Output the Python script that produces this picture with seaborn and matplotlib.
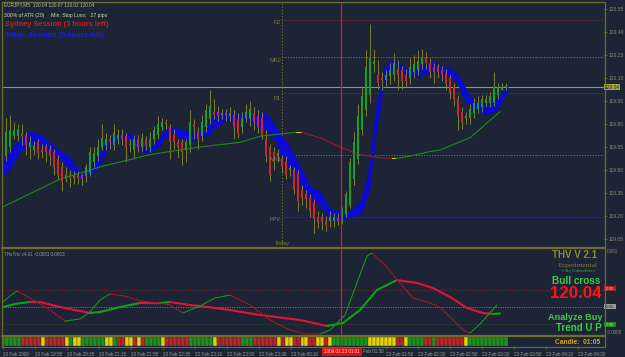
import matplotlib
matplotlib.use("Agg")
import matplotlib.pyplot as plt
import seaborn as sns
import numpy as np

W, H = 625, 357

# ---------------- data ----------------
bar_open = [119.50, 119.59, 119.65, 119.72, 119.72, 119.74, 119.73, 119.65, 119.63, 119.68,
            119.63, 119.65, 119.64, 119.62, 119.57, 119.52, 119.45, 119.47, 119.45, 119.47,
            119.47, 119.46, 119.48, 119.55, 119.59, 119.65, 119.66, 119.70, 119.66, 119.70,
            119.73, 119.72, 119.66, 119.63, 119.70, 119.65, 119.70, 119.65, 119.70, 119.73,
            119.78, 119.81, 119.78, 119.73, 119.68, 119.68, 119.63, 119.66, 119.80, 119.75,
            119.72, 119.78, 119.83, 119.88, 119.88, 119.86, 119.87, 119.85, 119.86, 119.83,
            119.78, 119.84, 119.83, 119.87, 119.85, 119.84, 119.70, 119.65, 119.62, 119.59,
            119.58, 119.56, 119.50, 119.50, 119.48, 119.37, 119.34, 119.32, 119.29, 119.19,
            119.19, 119.17, 119.17, 119.17, 119.19, 119.17, 119.21, 119.27, 119.44, 119.57,
            119.76, 119.89, 119.99, 120.19, 120.12, 120.10, 120.09, 120.11, 120.12, 120.16,
            120.15, 120.12, 120.10, 120.14, 120.15, 120.19, 120.23, 120.20, 120.17, 120.17,
            120.15, 120.13, 120.10, 120.04, 119.96, 119.88, 119.84, 119.84, 119.87, 119.90,
            119.91, 119.94, 119.94, 119.94, 119.99, 120.02, 120.04]
bar_high = [119.78, 119.84, 119.86, 119.81, 119.80, 119.80, 119.75, 119.72, 119.69, 119.70,
            119.67, 119.67, 119.66, 119.64, 119.60, 119.55, 119.52, 119.50, 119.49, 119.49,
            119.48, 119.54, 119.65, 119.65, 119.70, 119.80, 119.74, 119.73, 119.80, 119.77,
            119.77, 119.74, 119.70, 119.73, 119.73, 119.74, 119.72, 119.75, 119.79, 119.85,
            119.84, 119.83, 119.80, 119.77, 119.70, 119.70, 119.70, 119.89, 119.83, 119.78,
            119.86, 119.93, 120.02, 119.96, 119.92, 119.90, 119.90, 119.91, 119.89, 119.87,
            119.88, 119.93, 119.95, 119.91, 119.89, 119.88, 119.76, 119.67, 119.65, 119.64,
            119.60, 119.59, 119.53, 119.52, 119.50, 119.40, 119.37, 119.34, 119.31, 119.23,
            119.22, 119.20, 119.23, 119.22, 119.22, 119.26, 119.36, 119.58, 119.75, 119.93,
            120.05, 120.28, 120.45, 120.29, 120.22, 120.14, 120.15, 120.20, 120.26, 120.22,
            120.18, 120.16, 120.23, 120.25, 120.28, 120.29, 120.27, 120.23, 120.20, 120.19,
            120.18, 120.16, 120.12, 120.07, 119.99, 119.91, 119.88, 119.93, 119.97, 119.98,
            119.99, 119.99, 120.01, 120.14, 120.07, 120.07, 120.07]
bar_low = [119.48, 119.56, 119.62, 119.70, 119.69, 119.66, 119.60, 119.57, 119.60, 119.57,
           119.58, 119.55, 119.53, 119.47, 119.44, 119.36, 119.42, 119.39, 119.41, 119.41,
           119.40, 119.42, 119.46, 119.52, 119.56, 119.63, 119.63, 119.64, 119.63, 119.67,
           119.66, 119.55, 119.62, 119.57, 119.62, 119.62, 119.63, 119.62, 119.67, 119.70,
           119.76, 119.77, 119.57, 119.64, 119.58, 119.53, 119.55, 119.62, 119.70, 119.64,
           119.69, 119.75, 119.80, 119.83, 119.82, 119.83, 119.82, 119.82, 119.70, 119.71,
           119.74, 119.81, 119.79, 119.76, 119.74, 119.70, 119.55, 119.43, 119.50, 119.55,
           119.48, 119.44, 119.46, 119.34, 119.23, 119.27, 119.25, 119.19, 119.09, 119.12,
           119.11, 119.10, 119.13, 119.13, 119.14, 119.15, 119.19, 119.25, 119.40, 119.54,
           119.73, 119.85, 119.94, 120.14, 120.03, 120.02, 120.05, 120.06, 120.08, 120.02,
           120.03, 120.04, 120.06, 120.10, 120.12, 120.16, 120.16, 120.10, 120.07, 120.10,
           120.08, 120.02, 119.96, 119.92, 119.76, 119.77, 119.80, 119.80, 119.84, 119.87,
           119.88, 119.91, 119.91, 119.92, 119.96, 120.02, 120.02]
bar_close = [119.68, 119.75, 119.76, 119.76, 119.77, 119.72, 119.66, 119.68, 119.66, 119.61,
             119.62, 119.62, 119.59, 119.52, 119.47, 119.42, 119.47, 119.45, 119.46, 119.45,
             119.44, 119.52, 119.62, 119.61, 119.65, 119.71, 119.70, 119.68, 119.74, 119.73,
             119.70, 119.65, 119.67, 119.70, 119.65, 119.71, 119.66, 119.70, 119.76, 119.80,
             119.81, 119.80, 119.68, 119.68, 119.65, 119.62, 119.68, 119.81, 119.78, 119.70,
             119.81, 119.89, 119.92, 119.86, 119.85, 119.87, 119.86, 119.87, 119.78, 119.74,
             119.84, 119.88, 119.90, 119.81, 119.78, 119.73, 119.59, 119.47, 119.55, 119.61,
             119.52, 119.47, 119.51, 119.37, 119.30, 119.32, 119.31, 119.23, 119.18, 119.16,
             119.16, 119.14, 119.19, 119.19, 119.17, 119.24, 119.34, 119.55, 119.68, 119.85,
             119.98, 120.17, 120.23, 120.21, 120.07, 120.09, 120.12, 120.15, 120.20, 120.12,
             120.08, 120.08, 120.17, 120.19, 120.21, 120.24, 120.20, 120.14, 120.14, 120.14,
             120.12, 120.06, 120.00, 119.96, 119.85, 119.81, 119.85, 119.90, 119.94, 119.94,
             119.96, 119.96, 119.98, 120.04, 120.04, 120.04, 120.04]

# blue MA ribbon (bar index, upper edge, lower edge)
band_x = [0.25, 2, 4.5, 7, 9.5, 10.75, 12, 14.5, 17, 18.25, 19.5, 20.75, 22, 23.25, 24.5,
          25.75, 27, 29.5, 32, 33.25, 34.5, 37, 39.5, 40.75, 42, 43.25, 44.5, 47, 49.5,
          50.75, 52, 53.25, 54.5, 55.75, 57, 59.5, 62, 64.5, 65.75, 67, 68.25, 69.5, 72,
          74.5, 77, 79.5, 82, 84.5, 87, 89.5, 90.75, 92, 92.75, 93.5, 94.5, 95.25, 97,
          98.75, 100.25, 102, 103.75, 106.25, 108.25, 109.5, 112, 113.75, 115.25, 117,
          118.75, 121.25, 123.75, 125.25, 126.5]
band_top = [119.57, 119.63, 119.71, 119.75, 119.74, 119.71, 119.68, 119.63, 119.59, 119.53,
            119.49, 119.50, 119.53, 119.57, 119.62, 119.68, 119.71, 119.73, 119.74, 119.73,
            119.66, 119.65, 119.72, 119.76, 119.78, 119.78, 119.77, 119.75, 119.75, 119.78,
            119.83, 119.88, 119.89, 119.89, 119.87, 119.87, 119.86, 119.87, 119.88, 119.84,
            119.79, 119.74, 119.65, 119.53, 119.40, 119.36, 119.25, 119.23, 119.23, 119.30,
            119.40, 119.57, 119.76, 119.92, 120.05, 120.17, 120.21, 120.22, 120.18, 120.15,
            120.17, 120.20, 120.21, 120.18, 120.17, 120.13, 120.07, 119.98, 119.94, 119.94,
            119.97, 120.02, 120.05]
band_bot = [119.46, 119.50, 119.62, 119.66, 119.66, 119.63, 119.62, 119.57, 119.50, 119.47,
            119.44, 119.45, 119.47, 119.49, 119.53, 119.60, 119.66, 119.70, 119.70, 119.66,
            119.62, 119.61, 119.66, 119.71, 119.74, 119.73, 119.71, 119.68, 119.71, 119.72,
            119.73, 119.78, 119.79, 119.83, 119.81, 119.83, 119.81, 119.77, 119.76, 119.74,
            119.70, 119.60, 119.50, 119.41, 119.30, 119.27, 119.17, 119.17, 119.19, 119.21,
            119.27, 119.39, 119.57, 119.73, 119.89, 120.05, 120.14, 120.17, 120.13, 120.11,
            120.11, 120.13, 120.15, 120.12, 120.11, 120.07, 119.97, 119.91, 119.88, 119.86,
            119.89, 119.96, 120.01]

# slow moving average (thin line)
ma_x = [0.25, 14.5, 24.5, 37, 49.5, 59.5, 64.5, 69.5, 73.5, 75, 79.5, 84.5, 89.5, 94.5,
        97.5, 98.5, 102, 107, 109.5, 117, 124.5]
ma_y = [119.26, 119.44, 119.52, 119.60, 119.65, 119.68, 119.72, 119.735, 119.745, 119.745,
        119.71, 119.65, 119.60, 119.58, 119.575, 119.575, 119.59, 119.62, 119.63, 119.71,
        119.88]

# THV Trix oscillator lines
fast_x = [0.25, 2, 3.75, 7, 12, 15.75, 19.5, 22, 24.5, 27, 30.75, 34.5, 39.5, 42, 45.25,
          48.25, 49.5, 53.25, 57, 62, 67, 72, 75.75, 79.5, 82, 85.75, 89, 91.25, 92.5,
          96.25, 99.5, 102.75, 106.25, 109.5, 112.75, 115.25, 117, 119.5, 123.75]
fast_y = [0.000089, 0.000196, 0.000286, 0.000161, -0.000054, -0.000250, -0.000214,
          -0.000089, 0.000125, 0.000232, 0.000196, 0.000107, 0.000071, 0.000036,
          -0.000107, -0.000018, 0.000018, 0.000161, 0.000214, 0.000036, -0.000232,
          -0.000411, -0.000482, -0.000483, -0.000411, -0.000143, 0.000482, 0.000911,
          0.000964, 0.000714, 0.000429, 0.000161, 0.000089, 0.000000, -0.000232,
          -0.000411, -0.000464, -0.000304, 0.000036]
slow_x = [0.25, 3.25, 7, 9.5, 14.5, 19.5, 22, 24.5, 29.5, 34.5, 39.5, 42, 47, 49.5, 57,
          64.5, 74.5, 81.25, 85.25, 89.5, 93.75, 98.75, 103.75, 107.75, 112, 116.25,
          120.25, 122.75, 124.5]
slow_y = [0.000000, 0.000054, 0.000089, 0.000088, 0.000000, -0.000071, -0.000107,
          -0.000089, 0.000000, 0.000071, 0.000070, 0.000089, 0.000036, 0.000018,
          -0.000054, -0.000143, -0.000232, -0.000339, -0.000286, -0.000054, 0.000304,
          0.000482, 0.000429, 0.000339, 0.000179, -0.000018, -0.000107, -0.000125,
          -0.000116]

# signal strip per bar: G = buy, R = sell, Y = neutral
signal_codes = ("GGGGG" "RRRRR" "Y" "RRRRR" "Y" "G" "YY" "GGGGGG" "YY" "G" "RR" "YY" "R"
                "Y" "R" "GGGG" "Y" "RRRRRR" "GGGGGG" "Y" "RRRRRR" "GGG" "RRRRRR" "Y" "R"
                "YY" "RR" "YY" "RR" "YY" "R" "Y" "G" "GGGGGGGG" "YYYYYYY" "RR" "Y" "GGGG"
                "RR" "G" "RRRRRRR" "Y" "GGGGGGGGGG")

pivot_names = ["R2", "MR2", "R1", "MR1", "FPV"]
pivot_levels = [120.48, 120.24, 120.00, 119.60, 119.19]
pivot_start = 70
crosshair_bar = 84.75
current_price = 120.04
price_ticks = [120.55, 120.40, 120.25, 120.10, 119.95, 119.80, 119.65, 119.50, 119.35,
               119.20, 119.05]
date_ticks = [0, 8, 16, 24, 32, 40, 48, 56, 64, 72, 96, 104, 112, 120, 128, 136, 144]
date_labels = ["20 Feb 2009", "20 Feb 19:55", "20 Feb 20:35", "20 Feb 21:15", "20 Feb 21:55",
               "20 Feb 22:35", "22 Feb 23:10", "22 Feb 23:50", "22 Feb 23:30", "23 Feb 00:10",
               "23 Feb 01:50", "23 Feb 02:30", "23 Feb 02:50", "23 Feb 03:30", "23 Feb 03:50",
               "23 Feb 04:10", "23 Feb 04:30"]
partial_label = "Feb 01:30"
crosshair_label = "2009.02.23 01:01"

# ---------------- styling ----------------
sns.set_theme(style="dark")
plt.rcParams['font.family'] = ['Liberation Sans', 'DejaVu Sans']

BG = '#1c2436'
OLIVE = '#6e6e26'
GREEN = '#1e9e1e'
RED = '#c82828'
WICK = '#7c7c2c'
XL = (0.25, 150.5)

fig = plt.figure(figsize=(W / 100, H / 100), dpi=100, facecolor=BG)


def fax(x0, y0, x1, y1):
    return fig.add_axes([x0 / W, 1 - y1 / H, (x1 - x0) / W, (y1 - y0) / H])


ax1 = fax(3, 3, 604, 247)
ax2 = fax(3, 249, 604, 335)
ax3 = fax(3, 337, 604, 346)
for ax in (ax1, ax2, ax3):
    ax.set_facecolor(BG)
    for s in ax.spines.values():
        s.set_visible(False)
    ax.grid(False)
    ax.set_xlim(*XL)
    ax.set_xlabel('')
    ax.set_ylabel('')


def colored_runs(ax, xs, ys, lw, cu, cd, cf=None, tol=1e-9, z=3):
    cols = []
    for k in range(len(xs) - 1):
        d = ys[k + 1] - ys[k]
        cols.append(cu if d > tol else (cd if d < -tol else (cf or cu)))
    start = 0
    for k in range(1, len(cols) + 1):
        if k == len(cols) or cols[k] != cols[start]:
            sns.lineplot(x=xs[start:k + 1], y=ys[start:k + 1], ax=ax, color=cols[start],
                         lw=lw, sort=False, estimator=None, legend=False, zorder=z)
            start = k


# ---------------- main price panel ----------------
idx = np.arange(len(bar_close))
o = np.array(bar_open)
c = np.array(bar_close)
up = c >= o
ax1.fill_between(band_x, band_bot, band_top, color='#0a0ad2', lw=0, zorder=2)
ax1.vlines(idx, bar_low, bar_high, color=WICK, lw=0.72, zorder=3)
ax1.bar(idx, np.maximum(np.abs(c - o), 0.005), bottom=np.minimum(o, c), width=0.72,
        color=np.where(up, GREEN, RED), linewidth=0, edgecolor='none', zorder=4)
colored_runs(ax1, ma_x, ma_y, 0.8, '#1e8a1e', '#9a1e1e', '#c8c832', tol=1e-6, z=3)

ax1.axhline(current_price, color='#8e8e8e', lw=0.8, zorder=1)
for name, lev in zip(pivot_names, pivot_levels):
    if name == 'FPV':
        ax1.hlines(lev, pivot_start, XL[1], color='#1a1ad8', lw=0.9, zorder=1)
    else:
        col = '#9a2a2a' if name.startswith('R') else '#7a7a26'
        ax1.hlines(lev, pivot_start, XL[1], color=col, lw=0.7, ls=(0, (1.2, 1.6)), zorder=1)
ax1.axvline(pivot_start, color='#6e6e30', lw=0.8, ls=(0, (1.2, 1.6)), zorder=1)
ax1.set_ylim(118.9975, 120.5891)
ax1.set_yticks(price_ticks)
ax1.set_yticklabels([f"{t:.2f}" for t in price_ticks])
ax1.set_xticks([])
ax1.tick_params(axis='y', left=False, labelleft=False, right=True, labelright=True,
                length=2, width=0.6, color=OLIVE, labelsize=3.6, labelcolor='#8d8d70', pad=1.3)

# ---------------- oscillator panel ----------------
ax2.set_ylim(-0.0005, 0.001036)
ax2.axhline(0.0003, color='#8a2424', lw=0.6, ls=(0, (1.2, 1.6)))
ax2.axhline(0.0, color='#8a8a8a', lw=0.6, ls=(0, (1.2, 1.6)))
ax2.axhline(-0.0003, color='#2a5a2a', lw=0.6, ls=(0, (1.2, 1.6)))
colored_runs(ax2, slow_x, slow_y, 1.5, '#14a014', '#e0143c')
colored_runs(ax2, fast_x, fast_y, 0.75, '#1a9a1a', '#b01424')
ax2.set_xticks([])
ax2.set_yticks([])

# ---------------- signal strip ----------------
cmap = {'G': '#1f8f1f', 'R': '#b42828', 'Y': '#e6d200'}
ax3.set_ylim(0, 1)
ax3.bar(idx, 1, bottom=0, width=1.0, color=[cmap[s] for s in signal_codes],
        edgecolor='#1c2436', linewidth=0.25)
ax3.set_yticks([])
ax3.set_xticks(date_ticks)
ax3.set_xticklabels(date_labels, ha='left')
ax3.tick_params(axis='x', length=2, width=0.6, color=OLIVE, labelsize=3.3,
                labelcolor='#a2a288', pad=2.0, bottom=True)

for ax in (ax1, ax2, ax3):
    ax.axvline(crosshair_bar, color='#e01a1a', lw=0.9, zorder=6)

# ---------------- overlay: frame and texts ----------------
ov = fig.add_axes([0, 0, 1, 1], zorder=10)
ov.set_xlim(0, W)
ov.set_ylim(H, 0)
ov.axis('off')
ov.patch.set_alpha(0)

ov.plot([2, 604], [1.5, 1.5], color=OLIVE, lw=1.0)
ov.plot([2, 2], [1.5, 347], color=OLIVE, lw=0.9)
ov.plot([604.5, 604.5], [1.5, 347], color=OLIVE, lw=0.9)
ov.plot([2, 604], [248, 248], color=OLIVE, lw=1.6)
ov.plot([2, 604], [336, 336], color=OLIVE, lw=1.6)
ov.plot([2, 604], [346.8, 346.8], color=OLIVE, lw=0.8)

ov.text(4, 5, "EURJPY,M5  120.04 120.07 120.02 120.04", fontsize=3.4, color='#b8b8a8',
        va='center', ha='left')
ov.text(4, 15, "300% of ATR (20)     Min. Stop Loss:   27 pips", fontsize=3.7,
        color='#d8d8a0', va='center', ha='left')
ov.text(5, 25, "Sydney Session (3 hours left)", fontsize=5.3, color='#c81e1e',
        fontweight='bold', va='center', ha='left')
ov.text(5, 35.5, "Tokyo Session (5 hours left)", fontsize=5.3, color='#1e1ed2',
        fontweight='bold', va='center', ha='left')

for name, yy in zip(pivot_names + ["Today"], [22.5, 60.5, 98.5, 159.5, 219.5, 243.5]):
    ov.text(281 if name != "Today" else 282, yy, name, fontsize=4.1, color='#7d7d3a',
            ha='right' if name != "Today" else 'center', va='center')

# current price tag
ov.add_patch(plt.Rectangle((604, 84.3), 16, 5.6, color='#a8a83a', lw=0))
ov.text(612, 87.1, "120.04", fontsize=3.5, color='#1c2436', ha='center', va='center')

# oscillator texts
ov.text(4, 254.5, "THvTrix v4.01 -0.0081 0.0803", fontsize=3.3, color='#9a9a88', ha='left',
        va='center')
ov.text(607, 251.5, "0.001", fontsize=3.3, color='#8d8d70', ha='left', va='center')
ov.text(607, 332.5, "-0.0005", fontsize=3.3, color='#8d8d70', ha='left', va='center')
for yy, fc, tc in [(288.7, '#b42020', '#e0c0c0'), (306.7, '#9a9a9a', '#303030'),
                   (324.7, '#1e8a1e', '#c0e0c0')]:
    ov.add_patch(plt.Rectangle((604, yy - 2.6), 12, 5.2, color=fc, lw=0))
    ov.text(610, yy, "0.00", fontsize=3.2, color=tc, ha='center', va='center')

ov.text(597.5, 255.5, "THV V 2.1", fontsize=7, color='#8a8a30', fontweight='bold',
        ha='right', va='center')
ov.text(597.5, 265, "Experimental", fontsize=5.3, color='#7a7a3a',
        family=['Liberation Serif', 'DejaVu Serif'], ha='right', va='center')
ov.text(595.5, 271.2, "\u00a9 By Cobraforex", fontsize=3.2, color='#2a8a2a',
        fontweight='bold', ha='right', va='center')
ov.text(600.5, 281.5, "Bull cross", fontsize=7.2, color='#3ccc3c', fontweight='bold',
        ha='right', va='center')
ov.text(602, 293.8, "120.04", fontsize=12.2, color='#ff1414', fontweight='bold',
        ha='right', va='center')
ov.text(603, 317.5, "Analyze Buy", fontsize=6.6, color='#3ccc3c', fontweight='bold',
        ha='right', va='center')
ov.text(601.5, 328, "Trend U P", fontsize=7.0, color='#3ccc3c', fontweight='bold',
        ha='right', va='center')
ov.text(600.5, 342, "Candle:  01:05", fontsize=4.8, color='#e0a020', fontweight='bold',
        ha='right', va='center')

# crosshair time tag and the partly hidden date label beside it
ov.add_patch(plt.Rectangle((322, 347.5), 40, 8, color='#e01010', lw=0))
ov.text(342, 351.5, crosshair_label, fontsize=3.3, color='#ffd0d0', ha='center',
        va='center')
ov.text(363, 351.9, partial_label, fontsize=3.3, color='#a2a288', ha='left', va='center')

fig.savefig("out.png", dpi=100, facecolor=BG)
